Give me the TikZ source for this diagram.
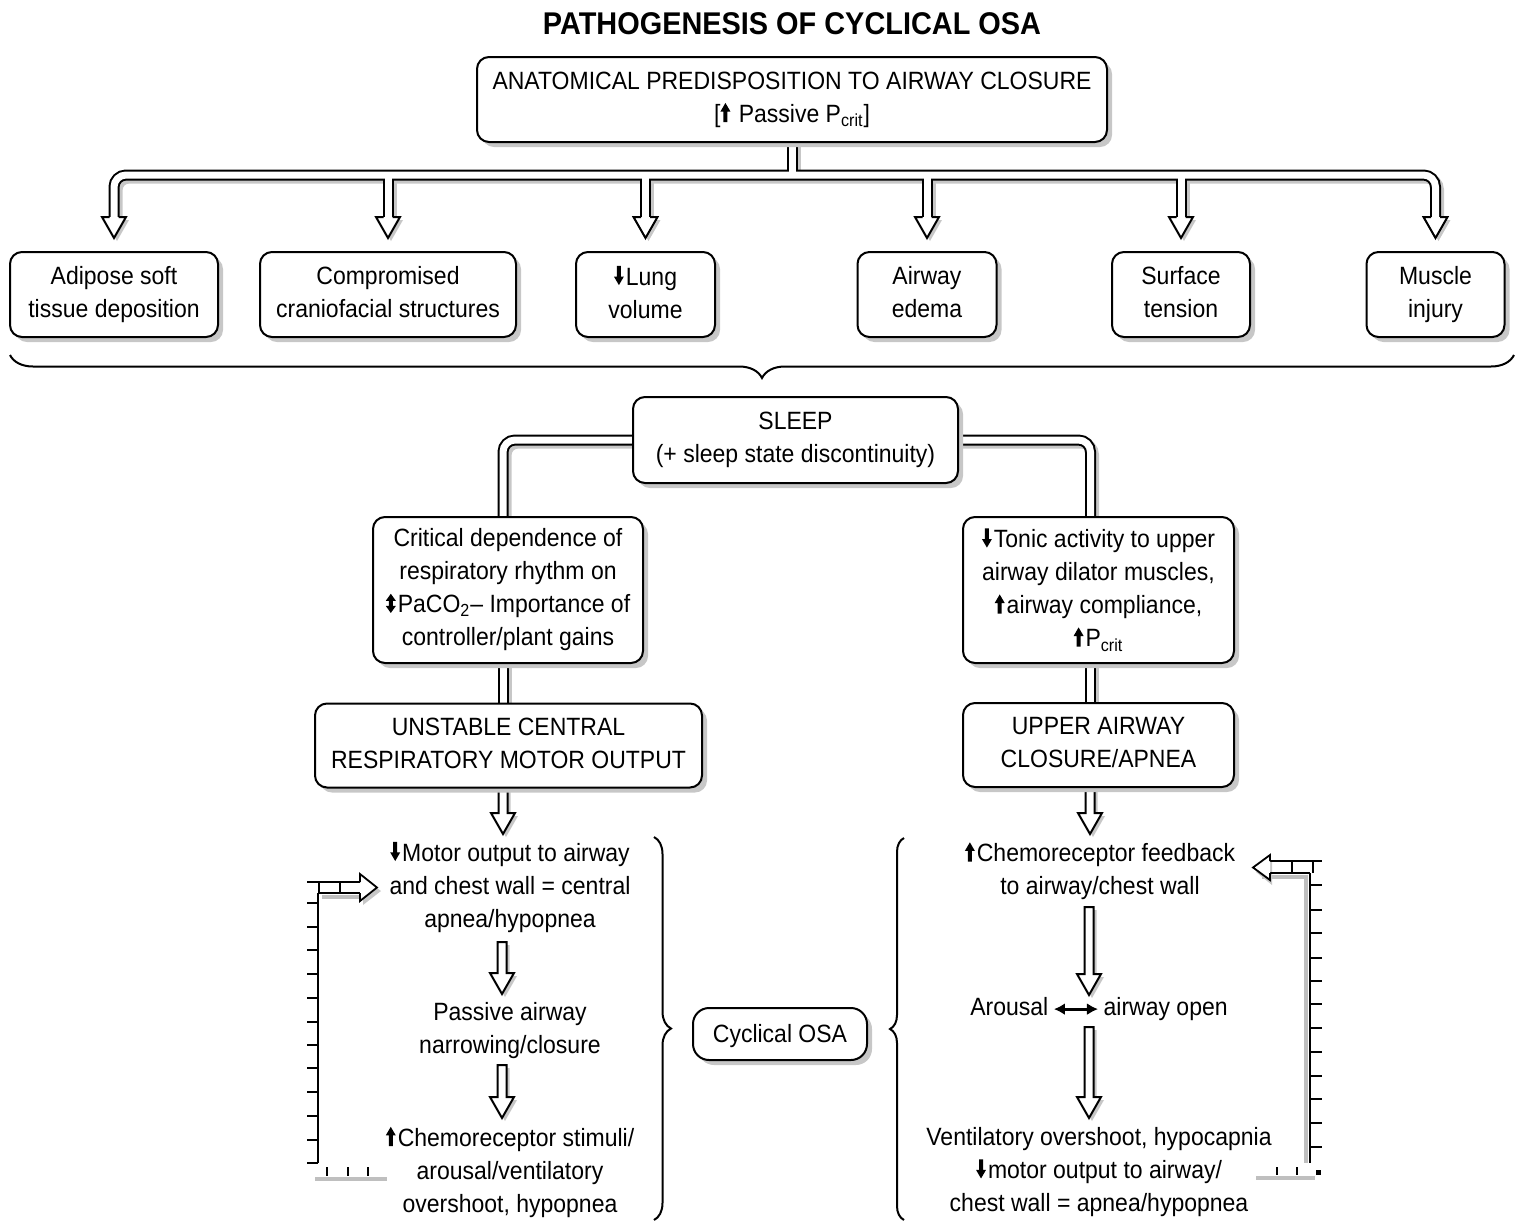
\documentclass[tikz,border=0pt]{standalone}
\usepackage{fontspec}
\setmainfont{Liberation Sans}[FakeStretch=0.92]
\usetikzlibrary{shadows,decorations.pathreplacing,arrows.meta,backgrounds}
\newcommand\bx{\fontsize{12.5}{16.5}\selectfont}
\newcommand\titlefnt{\fontsize{15.7}{18}\selectfont\bfseries}
\newcommand\vstrut{\rule[-2.5pt]{0pt}{14pt}}
\newsavebox\upglyph
\newsavebox\dnglyph
\newsavebox\udglyph
\newsavebox\dblglyph
\newcommand\UpA{\usebox\upglyph\kern1pt}
\newcommand\DnA{\usebox\dnglyph\kern1pt}
\newcommand\UDA{\usebox\udglyph\kern1pt}
\newcommand\DblA{\usebox\dblglyph}
\newcommand\DHead[1]{%
 \fill[black!22,transform canvas={xshift=1.5pt,yshift=-1.5pt}] (#1) ++(-12,0) -- ++(24,0) -- ++(-12,21) -- cycle;
 \fill[white] (#1) ++(-12,0) -- ++(24,0) -- ++(-12,21) -- cycle;
 \draw[line width=1pt,line join=miter] (#1) ++(-4.5,0) -- ++(-7.5,0) -- ++(12,21) -- ++(12,-21) -- ++(-7.5,0);}
\newcommand\BArrow[3]{%
 \fill[black!22,transform canvas={xshift=1.5pt,yshift=-1.5pt}] (#1-4.5,#2)--(#1+4.5,#2)--(#1+4.5,#3)--(#1+12,#3)--(#1,#3+21)--(#1-12,#3)--(#1-4.5,#3)--cycle;
 \filldraw[fill=white,draw=black,line width=1pt,line join=miter] (#1-4.5,#2)--(#1+4.5,#2)--(#1+4.5,#3)--(#1+12,#3)--(#1,#3+21)--(#1-12,#3)--(#1-4.5,#3)--cycle;}
\tikzset{
 box/.style={draw=black, line width=1pt, rounded corners=6pt, fill=white, inner sep=0pt, align=center, font=\bx,
   execute at begin node=\vstrut, execute at end node=\vstrut,
   drop shadow={shadow xshift=2.5pt, shadow yshift=-2.5pt, fill=black!22, opacity=1}},
 txt/.style={inner sep=0pt, align=center, font=\bx, execute at begin node=\vstrut, execute at end node=\vstrut},
 chsh/.style={line width=5.5pt, draw=black!22, rounded corners=6pt, transform canvas={xshift=1.5pt,yshift=-1.5pt}},
 chout/.style={line width=5.5pt, draw=black, rounded corners=6pt},
 chin/.style={line width=3.5pt, draw=white, rounded corners=6pt},
 brc/.style={decorate, decoration={brace, amplitude=#1}, line width=1pt},
 fb/.style={line width=0.9pt},
 fbsh/.style={line width=1.6pt, draw=black!25},
}
\begin{document}
\begin{tikzpicture}[x=0.5pt,y=-0.5pt]
\useasboundingbox (0,0) rectangle (1517,1222);
\begin{pgfinterruptboundingbox}
\global\sbox\upglyph{\tikz[x=1pt,y=1pt,baseline=0pt]\fill[black](-1,0)--(-1,5.3)--(-2.5,5.3)--(0,9.6)--(2.5,5.3)--(1,5.3)--(1,0)--cycle;}%
\global\sbox\dnglyph{\tikz[x=1pt,y=1pt,baseline=0pt]\fill[black](-1,9.6)--(-1,4.3)--(-2.5,4.3)--(0,0)--(2.5,4.3)--(1,4.3)--(1,9.6)--cycle;}%
\global\sbox\udglyph{\tikz[x=1pt,y=1pt,baseline=0pt]\fill[black](0,0)--(2.5,3.5)--(1,3.5)--(1,6.1)--(2.5,6.1)--(0,9.6)--(-2.5,6.1)--(-1,6.1)--(-1,3.5)--(-2.5,3.5)--cycle;}%
\global\sbox\dblglyph{\tikz[x=1pt,y=1pt,baseline=0pt]\draw[line width=1.5pt,{Latex[length=5.5pt,width=6pt]}-{Latex[length=5.5pt,width=6pt]}](0,3.4)--(22,3.4);}%
\end{pgfinterruptboundingbox}

\node (title) at (792,24) {\titlefnt PATHOGENESIS OF CYCLICAL OSA};
\node[box, minimum width=315pt, minimum height=42.5pt] (top) at (792,99.5)
  {ANATOMICAL PREDISPOSITION TO AIRWAY CLOSURE\\{}[\UpA\ Passive P\textsubscript{crit}]};
\node[box, minimum width=104pt, minimum height=42.5pt] (adipose) at (114,294.5) {Adipose soft\\tissue deposition};
\node[box, minimum width=128pt, minimum height=42.5pt] (comp) at (388,294.5) {Compromised\\craniofacial structures};
\node[box, minimum width=69.5pt, minimum height=42.5pt] (lung) at (645.5,294.5) {\DnA Lung\\volume};
\node[box, minimum width=69.5pt, minimum height=42.5pt] (edema) at (927,294.5) {Airway\\edema};
\node[box, minimum width=69pt, minimum height=42.5pt] (surface) at (1181,294.5) {Surface\\tension};
\node[box, minimum width=69pt, minimum height=42.5pt] (muscle) at (1435.5,294.5) {Muscle\\injury};

\node[box, minimum width=162.5pt, minimum height=43pt] (sleep) at (795.5,440) {SLEEP\\(+ sleep state discontinuity)};
\node[box, minimum width=135pt, minimum height=73pt] (crit) at (508,590)
  {Critical dependence of\\respiratory rhythm on\\\UDA PaCO\textsubscript{2}– Importance of\\controller/plant gains};
\node[box, minimum width=135.5pt, minimum height=73pt] (tonic) at (1098.5,590)
  {\DnA Tonic activity to upper\\airway dilator muscles,\\\UpA airway compliance,\\\UpA P\textsubscript{crit}};
\node[box, minimum width=193.5pt, minimum height=42pt] (unst) at (508.5,745.5) {UNSTABLE CENTRAL\\RESPIRATORY MOTOR OUTPUT};
\node[box, minimum width=135.5pt, minimum height=42pt] (upper) at (1098.5,745) {UPPER AIRWAY\\CLOSURE/APNEA};
\node[box, rounded corners=8pt, minimum width=87pt, minimum height=26pt] (cyc) at (780,1034) {Cyclical OSA};

\node[txt] (l1) at (510,887) {\DnA Motor output to airway\\and chest wall = central\\apnea/hypopnea};
\node[txt] (l2) at (510,1031) {Passive airway\\narrowing/closure};
\node[txt] (l3) at (510,1172) {\UpA Chemoreceptor stimuli/\\arousal/ventilatory\\overshoot, hypopnea};
\node[txt] (r1) at (1100,871) {\UpA Chemoreceptor feedback\\to airway/chest wall};
\node[txt] (r2) at (1099,1007) {Arousal\,\DblA\,airway open};
\node[txt] (r3) at (1099,1172) {Ventilatory overshoot, hypocapnia\\\DnA motor output to airway/\\chest wall = apnea/hypopnea};

\coordinate (hb) at (0,175);
\coordinate (ab) at (0,217);

\begin{pgfonlayer}{background}
\foreach \st in {chsh,chout,chin}{
  \draw[\st] (adipose.north |- ab) -- (adipose.north |- hb) -- (muscle.north |- hb) -- (muscle.north |- ab);
  \draw[\st] (top.south) -- (top.south |- hb);
  \draw[\st] (comp.north |- hb) -- (comp.north |- ab);
  \draw[\st] (lung.north |- hb) -- (lung.north |- ab);
  \draw[\st] (edema.north |- hb) -- (edema.north |- ab);
  \draw[\st] (surface.north |- hb) -- (surface.north |- ab);
  \draw[\st] (sleep.west) -| ([xshift=-2.5pt]crit.north);
  \draw[\st] (sleep.east) -| ([xshift=-4pt]tonic.north);
  \draw[\st] ([xshift=-2.5pt]crit.south) -- ([xshift=-2.5pt]crit.south |- unst.north);
  \draw[\st] ([xshift=-4pt]tonic.south) -- ([xshift=-4pt]upper.north);
}
\BArrow{503}{770}{813}
\BArrow{1090}{770}{813}
\end{pgfonlayer}
\DHead{adipose.north |- ab}
\DHead{comp.north |- ab}
\DHead{lung.north |- ab}
\DHead{edema.north |- ab}
\DHead{surface.north |- ab}
\DHead{muscle.north |- ab}

% inner arrows
\BArrow{502}{942}{973}
\BArrow{502}{1065}{1097}
\BArrow{1089}{907}{974}
\BArrow{1089}{1027}{1097}

% braces
\draw[brc=11.5pt] (1514,355) -- (10,355);
\draw[brc=8.5pt] (654,837) -- (654,1220);
\draw[brc=7pt] (904,1220) -- (904,838);

% left feedback loop
\draw[fbsh] (322,897) -- (362,897);
\fill[black!22] (363,878) -- (381,891) -- (363,905) -- cycle;
\draw[fb] (318,893) -- (318,1163);
\foreach \yy in {903,927,950,974,998,1022,1045,1068,1092,1116,1140,1163}
  \draw[fb] (307,\yy) -- (318,\yy);
\draw[fb] (307,882) -- (360,882);
\draw[fb] (318,893) -- (360,893);
\draw[fb] (319,882) -- (319,893);
\draw[fb] (340,882) -- (340,893);
\draw[fb, fill=white, line join=miter] (360,882) -- (360,874) -- (377,887.5) -- (360,901) -- (360,893);
\foreach \xx in {327,348,368}
  \draw[fb] (\xx,1167) -- (\xx,1176);
\draw[fbsh] (315,1179) -- (387,1179);

% right feedback loop
\draw[fbsh] (1262,877) -- (1306,877) -- (1306,1163);
\fill[black!22] (1272,860) -- (1256,872) -- (1272,885) -- cycle;
\draw[fb] (1310,873) -- (1310,1163);
\foreach \yy in {885,910,933,958,981,1004,1028,1052,1076,1099,1123,1147}
  \draw[fb] (1310,\yy) -- (1322,\yy);
\draw[fb] (1270,861) -- (1322,861);
\draw[fb] (1270,873) -- (1310,873);
\draw[fb] (1292,861) -- (1292,873);
\draw[fb] (1313,861) -- (1313,873);
\draw[fb, fill=white, line join=miter] (1270,861) -- (1270,855) -- (1253,867.5) -- (1270,880) -- (1270,873);
\foreach \xx in {1277,1297}
  \draw[fb] (\xx,1167) -- (\xx,1175);
\fill (1315.5,1169.5) rectangle (1320.5,1174.5);
\draw[fbsh] (1256,1178) -- (1315,1178);
\end{tikzpicture}
\end{document}
